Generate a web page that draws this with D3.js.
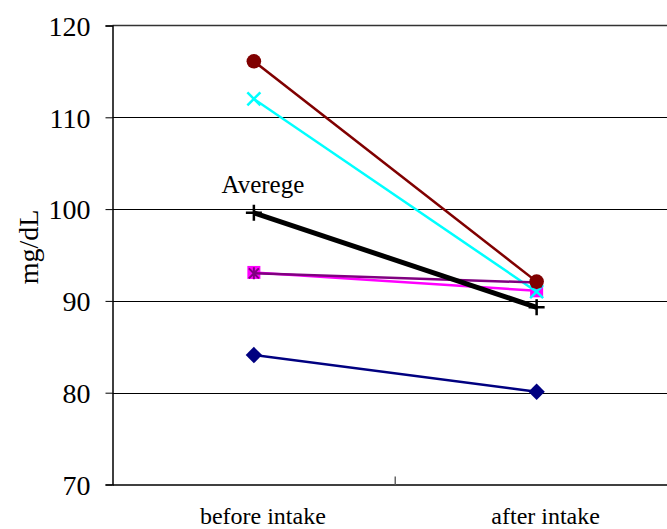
<!DOCTYPE html>
<html><head><meta charset="utf-8">
<script src="https://cdn.jsdelivr.net/npm/d3@7"></script>
<style>body{margin:0;background:#fff}svg{display:block}text{font-family:"Liberation Serif","Times New Roman",Tinos,serif;fill:#000}</style>
</head><body><svg id="c" width="667" height="529"></svg>
<script>
const categories = ["before intake", "after intake"];
const yTicks = [70, 80, 90, 100, 110, 120];
const seriesNames = ["s1", "s2", "s3", "s4", "s5", "Averege"];
const seriesColors = ["#000080", "#ff00ff", "#00ffff", "#800080", "#800000", "#000000"];
const seriesMarkers = ["diamond", "square", "x", "star", "circle", "plus"];
const s1 = [84.1, 80.1];
const s2 = [93.1, 91.1];
const s3 = [112.0, 91.0];
const s4 = [93.0, 92.0];
const s5 = [116.1, 92.1];
const avg = [99.6, 89.3];
const seriesValues = [s1, s2, s3, s4, s5, avg];

const svg = d3.select("#c");
const pL = 112.5, pR = 678, pT = 25.5, pB = 484.5;
const x = d3.scaleBand().domain(categories).range([pL, pR]);
const y = d3.scaleLinear().domain([70, 120]).range([pB, pT]);

// gridlines
svg.append("g").selectAll("line").data(yTicks.filter(t => t > 70 && t < 120)).join("line")
  .attr("x1", pL).attr("x2", 667).attr("y1", d => Math.round(y(d)) + 0.5).attr("y2", d => Math.round(y(d)) + 0.5)
  .attr("stroke", "#000").attr("stroke-width", 1);
// top border
svg.append("line").attr("x1", pL).attr("x2", 667).attr("y1", pT).attr("y2", pT).attr("stroke", "#333").attr("stroke-width", 1.5);

// y axis
const yAxis = d3.axisLeft(y).tickValues(yTicks).tickSize(7).tickPadding(15);
const gy = svg.append("g").attr("transform", `translate(${pL},0)`).call(yAxis);
gy.select(".domain").attr("stroke", "#000").attr("stroke-width", 1.5);
gy.selectAll(".tick line").attr("stroke", "#000");
gy.selectAll(".tick text").attr("font-size", 28).attr("dy", "0.35em");

// x axis
const xAxis = d3.axisBottom(x).tickSize(0).tickPadding(22);
const gx = svg.append("g").attr("transform", `translate(0,${pB})`).call(xAxis);
gx.select(".domain").attr("stroke", "#000").attr("stroke-width", 1.5);
gx.selectAll(".tick text").attr("font-size", 24).attr("dx", 9).attr("dy", "0.71em");
// category separator tick
svg.append("line").attr("x1", x(categories[1])).attr("x2", x(categories[1]))
  .attr("y1", pB - 8).attr("y2", pB).attr("stroke", "#666").attr("stroke-width", 1.5);

// y label
svg.append("text").attr("transform", `translate(38,247) rotate(-90)`)
  .attr("text-anchor", "middle").attr("font-size", 28).text("mg/dL");

const cx = c => x(c) + x.bandwidth() / 2;
const line = d3.line().x((d, i) => cx(categories[i])).y(d => y(d));

function marker(g, type, color, px, py) {
  if (type === "diamond") {
    g.append("rect").attr("x", -5.8).attr("y", -5.8).attr("width", 11.6).attr("height", 11.6).attr("transform", `translate(${px},${py}) rotate(45)`).attr("fill", color);
  } else if (type === "square") {
    g.append("rect").attr("x", px - 6.5).attr("y", py - 6.5).attr("width", 13).attr("height", 13).attr("fill", color);
  } else if (type === "circle") {
    g.append("circle").attr("cx", px).attr("cy", py).attr("r", 7.3).attr("fill", color);
  } else if (type === "x") {
    g.append("path").attr("d", `M${px-6.5},${py-6.5}L${px+6.5},${py+6.5}M${px-6.5},${py+6.5}L${px+6.5},${py-6.5}`).attr("stroke", color).attr("stroke-width", 2.5).attr("fill", "none");
  } else if (type === "plus") {
    g.append("path").attr("d", `M${px-8},${py}L${px+8},${py}M${px},${py-8}L${px},${py+8}`).attr("stroke", color).attr("stroke-width", 2.5).attr("fill", "none");
  } else if (type === "star") {
    g.append("path").attr("d", `M${px-5},${py-5}L${px+5},${py+5}M${px-5},${py+5}L${px+5},${py-5}M${px},${py-6}L${px},${py+6}`).attr("stroke", color).attr("stroke-width", 2).attr("fill", "none");
  }
}

seriesValues.forEach((vals, si) => {
  const g = svg.append("g");
  g.append("path").datum(vals).attr("d", line).attr("fill", "none")
    .attr("stroke", seriesColors[si]).attr("stroke-width", si === 5 ? 5 : 2.5);
  vals.forEach((v, i) => marker(g, seriesMarkers[si], seriesColors[si], cx(categories[i]), y(v)));
});

// Average label
svg.append("text").attr("x", cx(categories[0]) + 9).attr("y", y(avg[0]) - 20)
  .attr("text-anchor", "middle").attr("font-size", 25).text("Averege");
</script></body></html>
